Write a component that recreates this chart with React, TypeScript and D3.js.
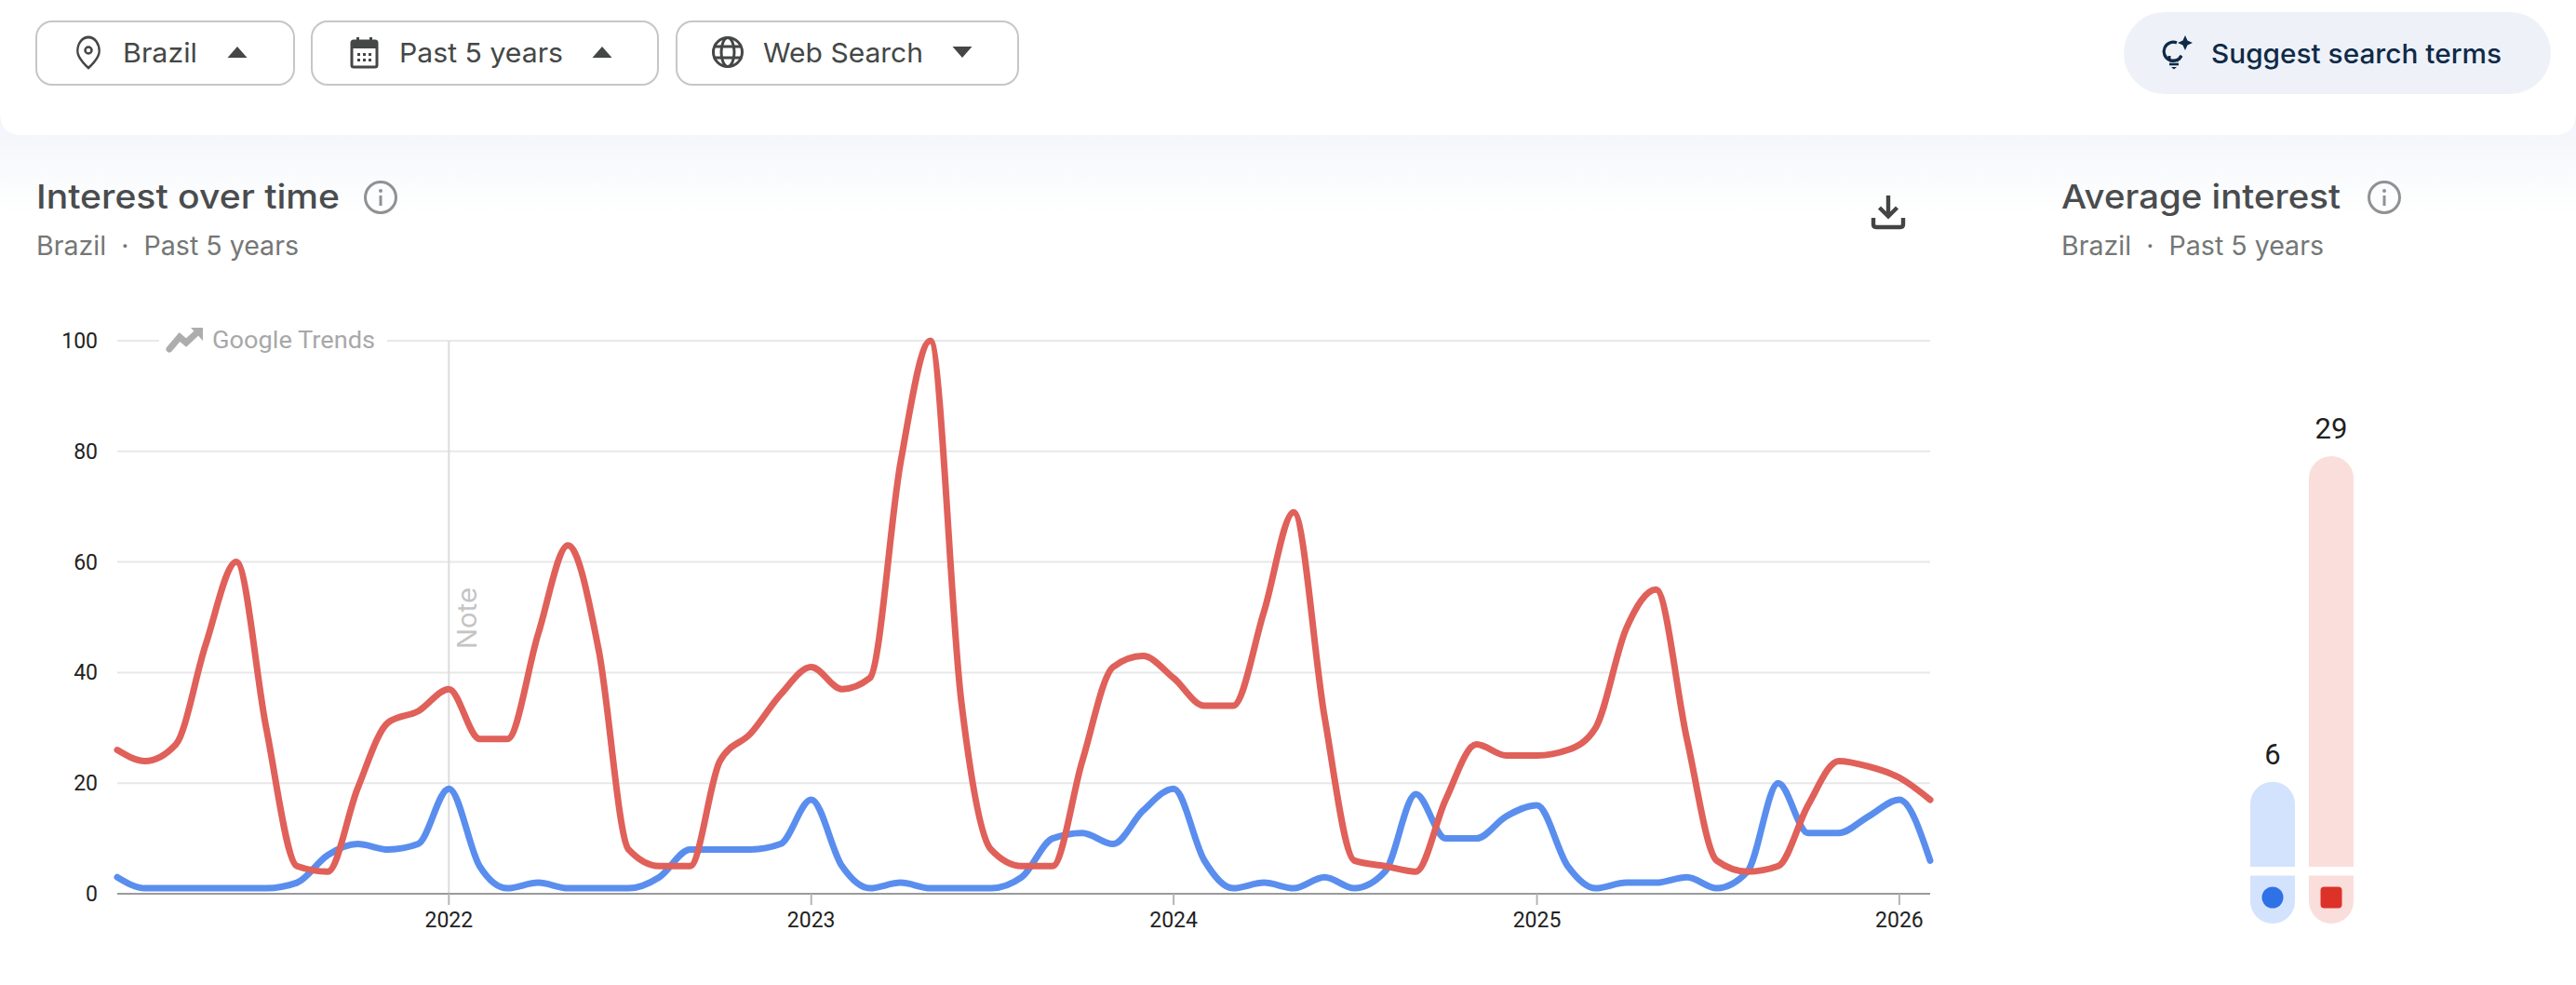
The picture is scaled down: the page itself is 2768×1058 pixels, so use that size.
import React from "react";
import * as d3 from "d3";

const startMonth = new Date(2021, 1, 1);
const endMonth = new Date(2026, 1, 1);

const blueValues = [3,1,1,1,1,1,2,7,9,8,9,19,5,1,2,1,1,1,3,8,8,8,9,17,5,1,2,1,1,1,3,10,11,9,15,19,6,1,2,1,3,1,4,18,10,10,14,16,5,1,2,2,3,1,4,20,11,11,14,17,6];
const redValues = [26,24,27,45,60,30,5,4,19,31,33,37,28,28,47,63,44,8,5,5,24,29,36,41,37,39,78,100,35,8,5,5,24,41,43,39,34,34,51,69,32,6,5,4,17,27,25,25,26,30,48,55,28,6,4,5,16,24,23,21,17];

const yTicks = [0, 20, 40, 60, 80, 100];
const yearTicks = [2022, 2023, 2024, 2025, 2026];

const barNames = ["blue", "red"];
const barValues = [6, 29];
const barFills = ["#d3e3fd", "#fadedb"];
const barMarks = ["#2f72e8", "#dc3228"];

const FONT = "Inter, Roboto, sans-serif";
const TICKFONT = "Roboto, sans-serif";
const TEXT = "#444746";
const SUB = "#747775";
const SUBTITLE = "Brazil\u00A0\u00A0·\u00A0\u00A0Past 5 years";

const W = 2768;
const H = 1058;

function Pill({ x, w, label, labelX, labelW, triX, up, children }: any) {
  const tri = up
    ? `M${triX - 10.5},62 L${triX + 10.5},62 L${triX},50 Z`
    : `M${triX - 10.5},50 L${triX + 10.5},50 L${triX},62 Z`;
  return (
    <g>
      <rect x={x} y={23} width={w} height={68} rx={17} fill="#fff" stroke="#c4c7c9" strokeWidth={2} />
      {children}
      <text x={labelX} y={67} fontSize={29} fill={TEXT} textLength={labelW} lengthAdjust="spacingAndGlyphs">{label}</text>
      <path d={tri} fill={TEXT} />
    </g>
  );
}

function Info({ cx, cy }: any) {
  return (
    <g>
      <circle cx={cx} cy={cy} r={16.5} fill="none" stroke="#8f9194" strokeWidth={3} />
      <circle cx={cx} cy={cy - 7} r={2} fill="#8f9194" />
      <rect x={cx - 1.5} y={cy - 2} width={3} height={11} fill="#8f9194" />
    </g>
  );
}

export default function App() {
  const x = d3.scaleTime().domain([startMonth, endMonth]).range([126, 2074]);
  const y = d3.scaleLinear().domain([0, 100]).range([960, 366]);
  const months = d3.timeMonth.range(startMonth, d3.timeMonth.offset(endMonth, 1));
  const line = d3
    .line<number>()
    .x((_, i) => x(months[i]))
    .y((d) => y(d))
    .curve(d3.curveMonotoneX);
  const barBase = 931;
  const barY = d3.scaleLinear().domain([0, 29]).range([barBase, 490]);
  const barX = d3.scaleBand<string>().domain(barNames).range([2418, 2529]).paddingInner(15 / 63).paddingOuter(0);

  const xYear = (yr: number) => x(new Date(yr, 0, 1));

  return (
    <svg width={W} height={H} viewBox={`0 0 ${W} ${H}`} style={{ position: "absolute", left: 0, top: 0, display: "block" }} fontFamily={FONT}>
      <defs>
        <linearGradient id="bg" x1="0" y1="0" x2="0" y2="1">
          <stop offset="0" stopColor="#eef2f8" />
          <stop offset="1" stopColor="#ffffff" />
        </linearGradient>
      </defs>
      <rect x={0} y={0} width={W} height={H} fill="#fff" />
      <rect x={0} y={100} width={W} height={130} fill="url(#bg)" />
      <path d={`M0,0 H${W} V121 Q${W},145 ${W - 24},145 H24 Q0,145 0,121 Z`} fill="#fff" />

      <Pill x={39} w={277} label="Brazil" labelX={132} labelW={80} triX={255} up>
        <path d="M95,40 C86,40 80,47 80,55 C80,63 95,73 95,73 C95,73 110,63 110,55 C110,47 104,40 95,40 Z" transform="translate(95 56) scale(.78 1) translate(-95 -56)" fill="none" stroke={TEXT} strokeWidth={3} />
        <circle cx={95} cy={54} r={3.5} fill="none" stroke={TEXT} strokeWidth={2.5} />
      </Pill>
      <Pill x={335} w={372} label="Past 5 years" labelX={429} labelW={176} triX={647} up>
        <rect x={378} y={44} width={27} height={28} rx={2} fill="none" stroke={TEXT} strokeWidth={3} />
        <rect x={378} y={44} width={27} height={8} fill={TEXT} />
        <rect x={383} y={40} width={3} height={5} fill={TEXT} />
        <rect x={397} y={40} width={3} height={5} fill={TEXT} />
        <g fill={TEXT}>
          <rect x={384} y={57} width={3} height={3} />
          <rect x={390} y={57} width={3} height={3} />
          <rect x={396} y={57} width={3} height={3} />
          <rect x={384} y={63} width={3} height={3} />
          <rect x={390} y={63} width={3} height={3} />
          <rect x={396} y={63} width={3} height={3} />
        </g>
      </Pill>
      <Pill x={727} w={367} label="Web Search" labelX={820} labelW={172} triX={1034} up={false}>
        <g fill="none" stroke={TEXT} strokeWidth={3}>
          <circle cx={782} cy={56} r={15.5} />
          <ellipse cx={782} cy={56} rx={7} ry={15.5} />
          <path d="M767,50 H797 M767,62 H797" />
        </g>
      </Pill>

      <rect x={2282} y={13} width={459} height={88} rx={44} fill="#eef2f8" />
      <path d="M2339,46 A10,10 0 1 0 2344,60 C2342,62 2341,63 2341,65" fill="none" stroke="#0f2a47" strokeWidth={3.2} />
      <path d="M2331,65 V60" fill="none" stroke="#0f2a47" strokeWidth={3} />
      <path d="M2331,65 H2341" fill="none" stroke="#0f2a47" strokeWidth={2.6} />
      <path d="M2331,69 H2341" fill="none" stroke="#0f2a47" strokeWidth={2.6} />
      <path d="M2333,72 H2339 L2336,74.5 Z" fill="#0f2a47" />
      <path d="M2348,38 L2350.5,43.5 L2356,46 L2350.5,48.5 L2348,54 L2345.5,48.5 L2340,46 L2345.5,43.5 Z" fill="#0f2a47" />
      <text x={2376} y={68} fontSize={29} fontWeight={500} fill="#0f2a47" textLength={312} lengthAdjust="spacingAndGlyphs">Suggest search terms</text>

      <text x={39} y={224} fontSize={36} fontWeight={500} fill="#4a4c4e" textLength={326} lengthAdjust="spacingAndGlyphs">Interest over time</text>
      <Info cx={409} cy={212} />
      <text x={39} y={274} fontSize={28} fill={SUB} textLength={282} lengthAdjust="spacingAndGlyphs">{SUBTITLE}</text>

      <g fill="none" stroke="#444" strokeWidth={4.4}>
        <path d="M2029,210 V232 M2019.5,223 L2029,232.5 L2038.5,223" />
        <path d="M2013,234 V241 Q2013,244 2016,244 H2042 Q2045,244 2045,241 V234" />
      </g>

      <text x={2215} y={224} fontSize={36} fontWeight={500} fill="#4a4c4e" textLength={300} lengthAdjust="spacingAndGlyphs">Average interest</text>
      <Info cx={2562} cy={212} />
      <text x={2215} y={274} fontSize={28} fill={SUB} textLength={282} lengthAdjust="spacingAndGlyphs">{SUBTITLE}</text>

      {yTicks.map((t) =>
        t === 0 ? null : t === 100 ? (
          <g key={t} stroke="#e8e8e8" strokeWidth={2}>
            <line x1={126} x2={171} y1={y(t)} y2={y(t)} />
            <line x1={416} x2={2074} y1={y(t)} y2={y(t)} />
          </g>
        ) : (
          <line key={t} x1={126} x2={2074} y1={y(t)} y2={y(t)} stroke="#e8e8e8" strokeWidth={2} />
        )
      )}
      {yTicks.map((t) => (
        <text key={t} x={105} y={y(t) + 8} textAnchor="end" fontSize={23} fill="#222" fontFamily={TICKFONT}>{t}</text>
      ))}

      <line x1={xYear(2022)} x2={xYear(2022)} y1={366} y2={960} stroke="#dcdcdc" strokeWidth={2} />
      <text transform={`translate(512 697) rotate(-90)`} fontSize={28} fill="#c4c4c4" fontFamily={FONT} textLength={66} lengthAdjust="spacingAndGlyphs">Note</text>

      <path d="M182,375 L193,362 L200,368 L213,356" fill="none" stroke="#adadad" strokeWidth={7} strokeLinecap="round" />
      <path d="M205,352 H218 V366 Z" fill="#adadad" />
      <text x={228} y={374} fontSize={26} fontFamily={TICKFONT} fontWeight={400} fill="#a8a8a8" textLength={175} lengthAdjust="spacingAndGlyphs">Google Trends</text>

      <line x1={126} x2={2074} y1={960} y2={960} stroke="#9a9a9a" strokeWidth={2} />
      {yearTicks.map((yr) => (
        <g key={yr}>
          <line x1={xYear(yr)} x2={xYear(yr)} y1={960} y2={972} stroke="#b5b5b5" strokeWidth={2} />
          <text x={xYear(yr)} y={996} textAnchor="middle" fontSize={23} fill="#222" fontFamily={TICKFONT}>{yr}</text>
        </g>
      ))}

      <path d={line(blueValues) ?? ""} fill="none" stroke="#5a8eee" strokeWidth={7} strokeLinecap="round" strokeLinejoin="round" />
      <path d={line(redValues) ?? ""} fill="none" stroke="#e0605a" strokeWidth={7} strokeLinecap="round" strokeLinejoin="round" />

      {barNames.map((n, i) => {
        const bx = barX(n) as number;
        const bw = barX.bandwidth();
        const top = barY(barValues[i]);
        const r = bw / 2;
        return (
          <g key={n}>
            <path d={`M${bx},${barBase} V${top + r} A${r},${r} 0 0 1 ${bx + bw},${top + r} V${barBase} Z`} fill={barFills[i]} />
            <path d={`M${bx},${barBase + 9.5} H${bx + bw} V${992 - r} A${r},${r} 0 0 1 ${bx},${992 - r} Z`} fill={barFills[i]} />
            {i === 0 ? (
              <circle cx={bx + r} cy={964} r={11.5} fill={barMarks[i]} />
            ) : (
              <rect x={bx + r - 11.5} y={952.5} width={23} height={23} rx={4} fill={barMarks[i]} />
            )}
            <text x={bx + r} y={top - 19} textAnchor="middle" fontSize={31} fontWeight={400} fill="#1f1f1f" fontFamily={TICKFONT}>{barValues[i]}</text>
          </g>
        );
      })}
    </svg>
  );
}
